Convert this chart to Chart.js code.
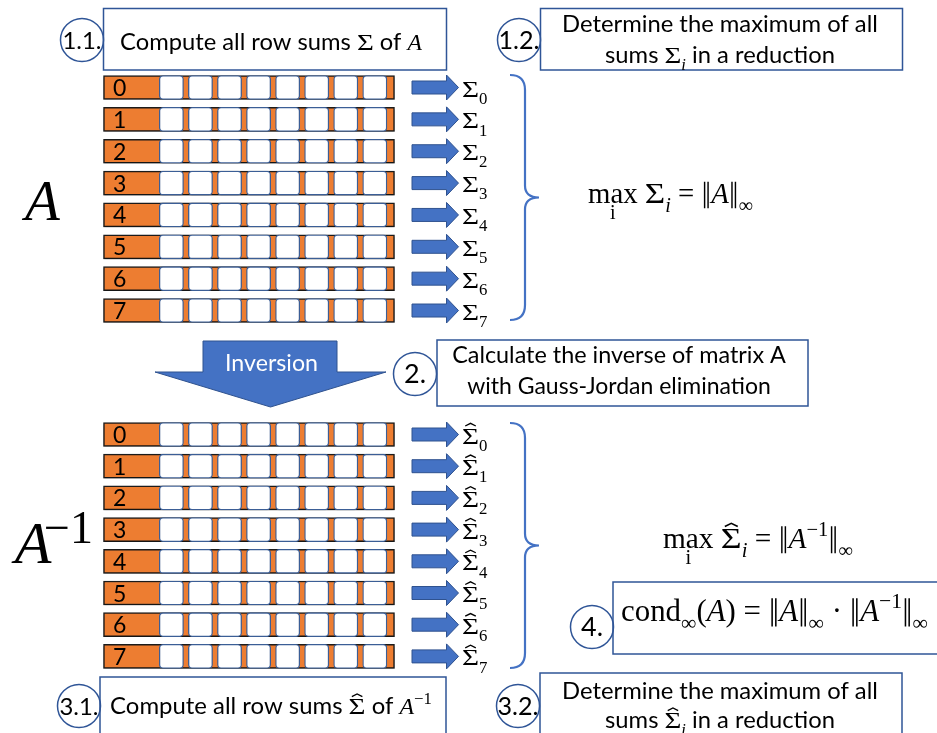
<!DOCTYPE html>
<html><head><meta charset="utf-8">
<script src="https://cdn.jsdelivr.net/npm/chart.js@4.4.1/dist/chart.umd.min.js"></script>
<style>html,body{margin:0;padding:0;background:#fff;overflow:hidden}</style>
</head><body>
<canvas id="c" width="937" height="733" style="width:937px;height:733px;display:block"></canvas>
<script>
// ===== DATA =====
const rowLabels = ['0','1','2','3','4','5','6','7'];
const cellColumns = [0,1,2,3,4,5,6,7];
const matrixSymbols = ['A', 'A'];
const matrixExponents = ['', '−1'];
const sumSymbol = 'Σ';
const stepNumbers = ['1.1.', '1.2.', '2.', '3.1.', '3.2.', '4.'];
const rowSumText = ['Compute all row sums ', ' of '];
const reduceText = ['Determine the maximum of all', 'sums ', ' in a reduction'];
const inverseText = ['Calculate the inverse of matrix A', 'with Gauss-Jordan elimination'];
const inversionLabel = 'Inversion';
const maxText = 'max';
const indexText = 'i';
const condText = 'cond';
const infText = '∞';
const normBar = '‖';

// ===== LAYOUT (pixels) =====
const L = {
  W: 937, H: 733,
  mats: [{y0: 87.5, pitch: 31.86}, {y0: 434.5, pitch: 31.7}],
  frameX: [103.5, 394.5], cellX0: 159.3, cellPitch: 29.06, cellW: 24.2, rowH: 24,
  arrow: {x0: 412, xh: 446.5, x1: 458.5, sh: 6.5, hh: 12.5},
  sumX: 462,
  braces: [{yTop: 75, yBot: 320}, {yTop: 423, yBot: 668}],
  braceX: [510, 525, 539]
};

const frames = [], cells = [];
L.mats.forEach(m => rowLabels.forEach((lab, r) => {
  const y = m.y0 + r * m.pitch;
  frames.push({x: [L.frameX[0], L.frameX[1]], y});
  cellColumns.forEach(c => {
    const x0 = L.cellX0 + c * L.cellPitch;
    cells.push({x: [x0, x0 + L.cellW], y});
  });
}));

// ===== TEXT HELPERS =====
const SANS = 'Lato, "Open Sans", sans-serif';
const SERIF = '"Liberation Serif", "DejaVu Serif", serif';
function F(k, size) {
  if (k === 'sans') return size + 'px ' + SANS;
  if (k === 'it') return 'italic ' + size + 'px ' + SERIF;
  return size + 'px ' + SERIF;
}
function S(t, k, o) { return Object.assign({t, k, s: 1, dy: 0, hat: false, dx: 0, sx: 1, under: null}, o || {}); }
const SUB = {s: 0.7, dy: 0.3};
const SUP = {s: 0.7, dy: -0.42};
const SIG = {sx: 1.22};
function segW(ctx, g, size) {
  const sz = size * g.s;
  if (g.t === normBar) return 0.34 * sz;
  ctx.font = F(g.k, sz); return ctx.measureText(g.t).width * g.sx;
}
function measureRich(ctx, segs, size) {
  let w = 0;
  for (const g of segs) w += segW(ctx, g, size) + g.dx * size;
  return w;
}
function hat(ctx, cx, top, sz, color) {
  ctx.save(); ctx.strokeStyle = color; ctx.lineWidth = Math.max(1, sz * 0.055);
  ctx.beginPath();
  ctx.moveTo(cx - 0.22 * sz, top - 0.05 * sz);
  ctx.lineTo(cx, top - 0.16 * sz);
  ctx.lineTo(cx + 0.22 * sz, top - 0.05 * sz);
  ctx.stroke(); ctx.restore();
}
function drawRich(ctx, segs, x, y, size, align, color) {
  color = color || '#000';
  const w = measureRich(ctx, segs, size);
  let cx = align === 'center' ? x - w / 2 : align === 'right' ? x - w : x;
  ctx.fillStyle = color; ctx.textBaseline = 'alphabetic'; ctx.textAlign = 'left';
  for (const g of segs) {
    const sz = size * g.s;
    const gw = segW(ctx, g, size);
    ctx.font = F(g.k, sz);
    const by = y + g.dy * size;
    if (g.t === normBar) {
      ctx.save(); ctx.strokeStyle = color; ctx.lineWidth = Math.max(1, sz * 0.05);
      ctx.beginPath();
      [0.11, 0.23].forEach(f => { ctx.moveTo(cx + f * sz, by - 0.74 * sz); ctx.lineTo(cx + f * sz, by + 0.18 * sz); });
      ctx.stroke(); ctx.restore();
    } else if (g.sx !== 1) { ctx.save(); ctx.translate(cx, by); ctx.scale(g.sx, 1); ctx.fillText(g.t, 0, 0); ctx.restore(); }
    else ctx.fillText(g.t, cx, by);
    if (g.hat) hat(ctx, cx + gw / 2, by - 0.68 * sz, sz, color);
    if (g.under) {
      ctx.font = F('rm', sz * 0.7);
      const uw = ctx.measureText(g.under).width;
      ctx.fillText(g.under, cx + gw / 2 - uw / 2, by + 0.55 * sz);
    }
    cx += gw + g.dx * size;
  }
  return w;
}
function drawFit(ctx, segs, xL, xR, y, color) {
  const w0 = measureRich(ctx, segs, 24);
  const size = 24 * (xR - xL) / w0;
  drawRich(ctx, segs, (xL + xR) / 2, y, size, 'center', color);
}

// ===== SHAPES =====
const BLUE = '#4472C4', BLUE_D = '#2F528F', BOX = '#2F5597';
function rightArrow(ctx, a, cy) {
  ctx.beginPath();
  ctx.moveTo(a.x0, cy - a.sh); ctx.lineTo(a.xh, cy - a.sh); ctx.lineTo(a.xh, cy - a.hh);
  ctx.lineTo(a.x1, cy); ctx.lineTo(a.xh, cy + a.hh); ctx.lineTo(a.xh, cy + a.sh);
  ctx.lineTo(a.x0, cy + a.sh); ctx.closePath();
  ctx.fillStyle = BLUE; ctx.fill(); ctx.lineWidth = 1; ctx.strokeStyle = BLUE_D; ctx.stroke();
}
function brace(ctx, xs, yTop, yBot) {
  const [xL, xM, xR] = xs, yMid = (yTop + yBot) / 2, r = xM - xL;
  ctx.beginPath();
  ctx.moveTo(xL, yTop);
  ctx.quadraticCurveTo(xM, yTop, xM, yTop + r);
  ctx.lineTo(xM, yMid - r * 0.8);
  ctx.quadraticCurveTo(xM, yMid, xR, yMid);
  ctx.quadraticCurveTo(xM, yMid, xM, yMid + r * 0.8);
  ctx.lineTo(xM, yBot - r);
  ctx.quadraticCurveTo(xM, yBot, xL, yBot);
  ctx.strokeStyle = BLUE; ctx.lineWidth = 2.2; ctx.stroke();
}
function box(ctx, x0, y0, x1, y1) {
  ctx.fillStyle = '#fff'; ctx.fillRect(x0, y0, x1 - x0, y1 - y0);
  ctx.strokeStyle = BOX; ctx.lineWidth = 1.5; ctx.strokeRect(x0, y0, x1 - x0, y1 - y0);
}
function circleLabel(ctx, cx, cy, r, text, tw) {
  ctx.beginPath(); ctx.arc(cx, cy, r, 0, Math.PI * 2);
  ctx.strokeStyle = BOX; ctx.lineWidth = 1.5; ctx.stroke();
  drawFit(ctx, [S(text, 'sans')], cx - tw / 2, cx + tw / 2, cy + 8.5);
}

const bgPlugin = {id: 'bg', beforeDraw(chart) { const c = chart.ctx; c.save(); c.fillStyle = '#fff'; c.fillRect(0, 0, chart.width, chart.height); c.restore(); }};
const shadowPlugin = {
  id: 'rowShadow',
  beforeDatasetDraw(chart, args) { if (args.index === 0) { const c = chart.ctx; c.save(); c.shadowColor = 'rgba(0,0,0,0.3)'; c.shadowOffsetY = 2; c.shadowBlur = 2; } },
  afterDatasetDraw(chart, args) { if (args.index === 0) chart.ctx.restore(); }
};

const decorPlugin = {
  id: 'decor',
  afterDatasetsDraw(chart) {
    const ctx = chart.ctx, X = v => chart.scales.x.getPixelForValue(v), Y = v => chart.scales.y.getPixelForValue(v);
    ctx.save();
    // row index labels, arrows and sums
    L.mats.forEach((m, mi) => rowLabels.forEach((lab, r) => {
      const cy = Y(m.y0 + r * m.pitch);
      ctx.fillStyle = '#000'; ctx.font = F('sans', 23); ctx.textAlign = 'left'; ctx.textBaseline = 'alphabetic';
      ctx.fillText(lab, X(113), cy + 8.5);
      rightArrow(ctx, {x0: X(L.arrow.x0), xh: X(L.arrow.xh), x1: X(L.arrow.x1), sh: L.arrow.sh, hh: L.arrow.hh}, cy);
      drawRich(ctx, [S(sumSymbol, 'rm', Object.assign({hat: mi === 1}, SIG)), S(lab, 'rm', SUB)], X(L.sumX), cy + 9, 24, 'left');
    }));
    // braces
    L.braces.forEach(b => brace(ctx, L.braceX.map(X), Y(b.yTop), Y(b.yBot)));
    // matrix symbols
    ctx.fillStyle = '#000'; ctx.textAlign = 'center';
    ctx.font = F('it', 57); ctx.fillText(matrixSymbols[0], X(42.5), Y(220));
    ctx.font = F('it', 60); ctx.fillText(matrixSymbols[1], X(33), Y(563));
    ctx.font = F('rm', 46); ctx.textAlign = 'left'; ctx.fillText(matrixExponents[1], X(44), Y(543));

    // formulas
    drawFit(ctx, [S(maxText, 'rm', {under: indexText}), S(' ', 'rm'), S(sumSymbol, 'rm', SIG), S(indexText, 'it', SUB), S(' = ', 'rm'),
      S(normBar, 'rm'), S(matrixSymbols[0], 'it'), S(normBar, 'rm'), S(infText, 'rm', SUB)], X(588), X(753), Y(203));
    drawFit(ctx, [S(maxText, 'rm', {under: indexText}), S(' ', 'rm'), S(sumSymbol, 'rm', Object.assign({hat: true}, SIG)), S(indexText, 'it', SUB), S(' = ', 'rm'),
      S(normBar, 'rm'), S(matrixSymbols[1], 'it'), S(matrixExponents[1], 'rm', SUP), S(normBar, 'rm'), S(infText, 'rm', SUB)], X(663), X(853), Y(548));

    // step boxes
    box(ctx, X(103.5), Y(8.5), X(446.5), Y(70));
    circleLabel(ctx, X(82), Y(40), 21.5, stepNumbers[0], 39);
    drawFit(ctx, [S(rowSumText[0], 'sans'), S(sumSymbol, 'rm', SIG), S(rowSumText[1], 'sans'), S(matrixSymbols[0], 'it')], X(120), X(422), Y(50));

    box(ctx, X(540.5), Y(8.5), X(902.5), Y(70));
    circleLabel(ctx, X(519), Y(40), 21.5, stepNumbers[1], 41);
    drawFit(ctx, [S(reduceText[0], 'sans')], X(562), X(878), Y(32));
    drawFit(ctx, [S(reduceText[1], 'sans'), S(sumSymbol, 'rm', SIG), S(indexText, 'it', SUB), S(reduceText[2], 'sans')], X(605), X(835), Y(63));

    // inversion arrow
    ctx.beginPath();
    ctx.moveTo(X(203), Y(341)); ctx.lineTo(X(337), Y(341)); ctx.lineTo(X(337), Y(372)); ctx.lineTo(X(386), Y(372));
    ctx.lineTo(X(270.5), Y(407)); ctx.lineTo(X(155), Y(372)); ctx.lineTo(X(203), Y(372)); ctx.closePath();
    ctx.fillStyle = BLUE; ctx.fill(); ctx.strokeStyle = BLUE_D; ctx.lineWidth = 1; ctx.stroke();
    drawFit(ctx, [S(inversionLabel, 'sans')], X(225), X(318), Y(371), '#fff');

    box(ctx, X(437), Y(340), X(808), Y(406));
    circleLabel(ctx, X(415), Y(374), 21.5, stepNumbers[2], 22);
    drawFit(ctx, [S(inverseText[0], 'sans')], X(452), X(786), Y(363));
    drawFit(ctx, [S(inverseText[1], 'sans')], X(467), X(771), Y(394));

    box(ctx, X(100), Y(677), X(446), Y(740));
    circleLabel(ctx, X(79), Y(706), 21.5, stepNumbers[3], 39);
    drawFit(ctx, [S(rowSumText[0], 'sans'), S(sumSymbol, 'rm', Object.assign({hat: true}, SIG)), S(rowSumText[1], 'sans'), S(matrixSymbols[1], 'it'), S(matrixExponents[1], 'rm', SUP)], X(110), X(432), Y(714));

    box(ctx, X(540), Y(673), X(902), Y(740));
    circleLabel(ctx, X(518), Y(706), 21.5, stepNumbers[4], 41);
    drawFit(ctx, [S(reduceText[0], 'sans')], X(562), X(878), Y(699));
    drawFit(ctx, [S(reduceText[1], 'sans'), S(sumSymbol, 'rm', Object.assign({hat: true}, SIG)), S(indexText, 'it', SUB), S(reduceText[2], 'sans')], X(605), X(835), Y(728));

    box(ctx, X(613), Y(582), X(945), Y(654));
    circleLabel(ctx, X(592), Y(627), 21.5, stepNumbers[5], 22);
    drawFit(ctx, [S(condText, 'rm'), S(infText, 'rm', SUB), S('(', 'rm'), S(matrixSymbols[0], 'it'), S(')', 'rm'), S(' = ', 'rm'),
      S(normBar, 'rm'), S(matrixSymbols[0], 'it'), S(normBar, 'rm'), S(infText, 'rm', SUB), S(' · ', 'rm'),
      S(normBar, 'rm'), S(matrixSymbols[1], 'it'), S(matrixExponents[1], 'rm', SUP), S(normBar, 'rm'), S(infText, 'rm', SUB)], X(621), X(928), Y(621));
    ctx.restore();
  }
};

new Chart(document.getElementById('c').getContext('2d'), {
  type: 'bar',
  data: {datasets: [
    {label: 'rows', data: frames, backgroundColor: '#ED7D31', borderColor: '#1b1b1b', borderWidth: 1.5, borderSkipped: false,
     grouped: false, maxBarThickness: L.rowH, categoryPercentage: 1, barPercentage: 1, order: 2},
    {label: 'cells', data: cells, backgroundColor: '#ffffff', borderColor: '#3B5E96', borderWidth: 1.3, borderRadius: 4, borderSkipped: false,
     grouped: false, maxBarThickness: L.rowH, categoryPercentage: 1, barPercentage: 1, order: 1}
  ]},
  options: {
    indexAxis: 'y', responsive: false, animation: false, devicePixelRatio: 1, events: [],
    layout: {padding: 0},
    scales: {
      x: {type: 'linear', min: 0, max: L.W, display: false, offset: false, grid: {offset: false}},
      y: {type: 'linear', min: 0, max: L.H, reverse: true, display: false, offset: false, grid: {offset: false}}
    },
    plugins: {legend: {display: false}, tooltip: {enabled: false}}
  },
  plugins: [bgPlugin, shadowPlugin, decorPlugin]
});
</script>
</body></html>
